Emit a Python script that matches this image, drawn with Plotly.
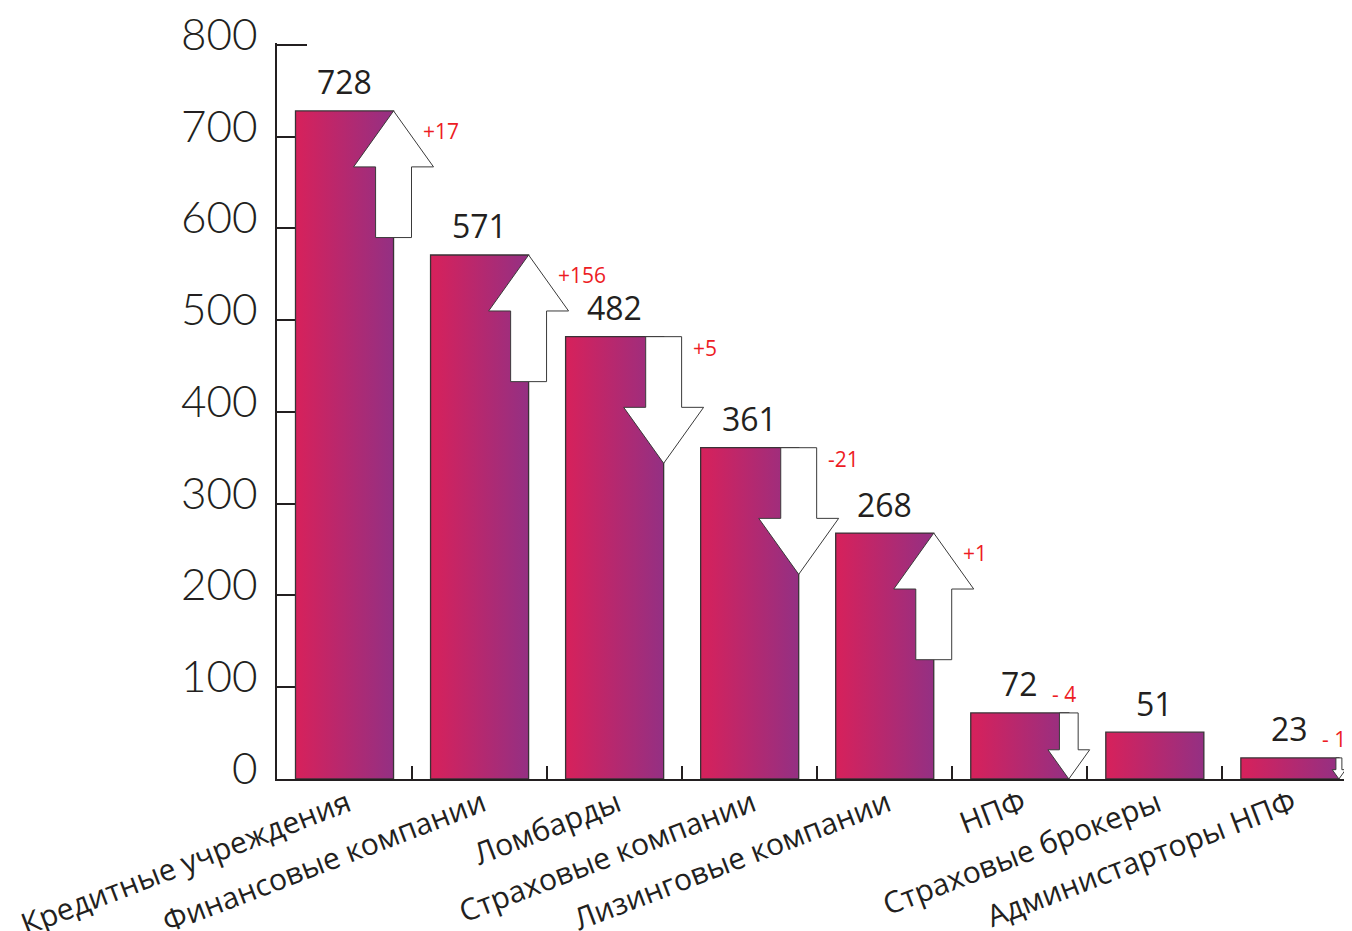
import plotly.graph_objects as go

# ---- data ----
categories = ["Кредитные учреждения", "Финансовые компании", "Ломбарды",
              "Страховые компании", "Лизинговые компании", "НПФ",
              "Страховые брокеры", "Администарторы НПФ"]
values = [728, 571, 482, 361, 268, 72, 51, 23]
change_labels = ["+17", "+156", "+5", "-21", "+1", "- 4", None, "- 1"]
arrow_dirs = ["up", "up", "down", "down", "up", "down", None, "down"]
y_ticks = [0, 100, 200, 300, 400, 500, 600, 700, 800]

# ---- style constants ----
BAR_W = 0.726          # bar width in category units
ARROW_LEN = 138        # arrow length in value units
HEAD_LEN = 61          # head length in value units
HEAD_HALF = 0.296      # head half width (category units)
SHAFT_HALF = 0.133     # shaft half width (category units)
C_LEFT = "#D7215B"
C_RIGHT = "#943083"
INK = "#231F20"
RED = "#ED1C24"

fig = go.Figure()

# bars (gradient-filled rectangles)
for i, v in enumerate(values):
    x0, x1 = i - BAR_W / 2, i + BAR_W / 2
    fig.add_trace(go.Scatter(
        x=[x0, x1, x1, x0, x0], y=[0, 0, v, v, 0],
        mode="lines", fill="toself",
        fillgradient=dict(type="horizontal",
                          colorscale=[[0, C_LEFT], [1, C_RIGHT]]),
        line=dict(color="#3a3236", width=1.3),
        hoverinfo="skip", showlegend=False))

# arrows
annotations = []
for i, (v, d, lab) in enumerate(zip(values, arrow_dirs, change_labels)):
    if d is None:
        continue
    xc = i + BAR_W / 2
    s = 1.0 if d == "up" else min(1.0, v / ARROW_LEN)
    L, hl, hh, sh = ARROW_LEN * s, HEAD_LEN * s, HEAD_HALF * s, SHAFT_HALF * s
    if d == "up":
        xs = [xc, xc + hh, xc + sh, xc + sh, xc - sh, xc - sh, xc - hh, xc]
        ys = [v, v - hl, v - hl, v - L, v - L, v - hl, v - hl, v]
    else:
        b = v - L
        xs = [xc - sh, xc + sh, xc + sh, xc + hh, xc, xc - hh, xc - sh, xc - sh]
        ys = [v, v, b + hl, b + hl, b, b + hl, b + hl, v]
    fig.add_trace(go.Scatter(
        x=xs, y=ys, mode="lines", fill="toself", fillcolor="white",
        line=dict(color="#3a3a3a", width=1),
        hoverinfo="skip", showlegend=False))
    if lab:
        if s >= 1.0:
            annotations.append(dict(
                x=xc, y=v, text=lab, showarrow=False,
                xanchor="left", yanchor="middle",
                xshift=27, yshift=(-20 if d == "up" else -11),
                font=dict(family="Open Sans", size=21, color=RED)))
        else:
            annotations.append(dict(
                x=xc, y=v, text=lab, showarrow=False,
                xanchor="center", yanchor="middle",
                xshift=-5, yshift=19,
                font=dict(family="Open Sans", size=21, color=RED)))

# value labels
for i, v in enumerate(values):
    annotations.append(dict(
        x=i, y=v, text=str(v), showarrow=False,
        xanchor="center", yanchor="middle", yshift=29,
        font=dict(family="Open Sans", size=32, color=INK)))

# y tick labels (raised above their ticks, as in the original)
for t in y_ticks:
    annotations.append(dict(
        xref="paper", yref="y", x=0, y=t, text=str(t), showarrow=False,
        xanchor="right", yanchor="middle", xshift=-17, yshift=12,
        font=dict(family="Lato", size=44, color=INK, weight=300)))

# page body adds an 8px margin, so the figure is 8px smaller on each side
fig.update_layout(
    width=1344, height=923,
    margin=dict(l=269, r=0, t=35, b=152),
    paper_bgcolor="white", plot_bgcolor="white",
    showlegend=False,
    annotations=annotations,
    xaxis=dict(
        range=[-0.5, 7.46], automargin=False,
        tickmode="array", tickvals=list(range(len(categories))),
        ticktext=categories, tickangle=-21,
        ticks="", showgrid=False, zeroline=False,
        showline=True, linecolor=INK, linewidth=2,
        tickfont=dict(family="Open Sans", size=30, color=INK),
        ticklabelstandoff=-6, ticklabelshift=3,
        minor=dict(tickmode="array",
                   tickvals=[k + 0.5 for k in range(len(categories) - 1)],
                   ticks="inside", ticklen=13, tickwidth=2, tickcolor=INK,
                   showgrid=False),
        layer="above traces",
    ),
    yaxis=dict(
        range=[0, 802], automargin=False,
        tickmode="array", tickvals=y_ticks, showticklabels=False,
        ticks="inside", ticklen=30, tickwidth=2, tickcolor=INK,
        showgrid=False, zeroline=False,
        showline=True, linecolor=INK, linewidth=2,
        layer="below traces",
    ),
)

fig.write_html("out.html")
